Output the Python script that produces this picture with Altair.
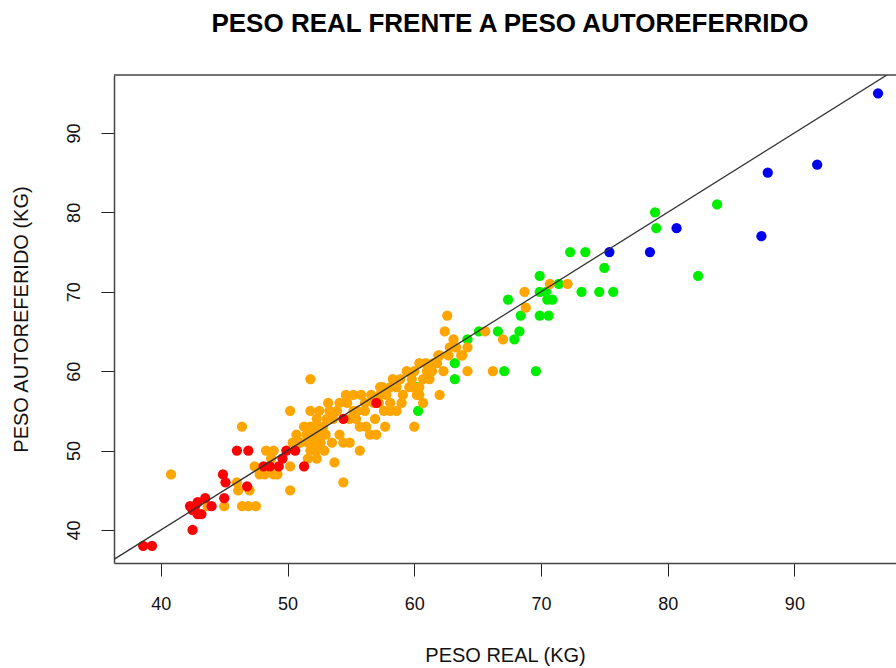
import altair as alt
import pandas as pd

titulo = "PESO REAL FRENTE A PESO AUTOREFERRIDO"
eje_x = "PESO REAL (KG)"
eje_y = "PESO AUTOREFERIDO (KG)"
marcas = [40, 50, 60, 70, 80, 90]

grupos = ["verde", "naranja", "rojo", "azul"]
colores = ["#00EE00", "#FFA500", "#FF0000", "#0000EE"]

verde_real = [79.0, 79.1, 83.9, 72.3, 73.5, 75.0, 82.4, 69.9, 71.4, 73.2, 74.6, 75.7,
              69.9, 70.4, 70.5, 70.9, 67.4, 68.4, 69.9, 70.6, 66.6, 65.1, 68.3, 64.2,
              67.9, 67.1, 69.6, 63.2, 63.2, 60.2, 60.3]
verde_auto = [80, 78, 81, 75, 75, 73, 72, 72, 71, 70, 70, 70,
              70, 70, 69, 69, 69, 67, 67, 67, 65, 65, 65, 64,
              64, 60, 60, 59, 61, 58, 55]

naranja_real = [40.8, 43.7, 45.0, 46.0, 46.1, 46.4, 46.9, 47.5, 46.4, 47.4, 47.8, 48.2,
                48.9, 49.2, 48.3, 48.9, 48.7, 50.2, 50.2, 50.4, 51.0, 50.7, 50.2, 51.3,
                51.8, 52.3, 52.8, 51.5, 52.0, 52.5, 53.0, 51.6, 52.1, 52.6, 51.8, 52.3,
                52.9, 51.6, 52.3, 53.5, 54.1, 54.4, 54.9, 52.3, 53.1, 53.6, 53.3, 53.9,
                51.8, 52.5, 51.8, 53.2, 54.6, 54.7, 55.2, 55.5, 56.1, 56.1, 54.9, 55.4,
                55.7, 56.2, 55.8, 56.5, 57.0, 57.7, 55.7, 53.7, 54.4, 57.5, 58.1, 57.8,
                58.6, 58.3, 58.9, 59.4, 59.6, 59.1, 59.0, 60.4, 61.0, 61.8, 62.0, 62.3,
                61.2, 60.4, 62.0, 60.0, 58.1, 58.6, 60.4, 60.7, 57.3, 61.5, 60.7, 59.9,
                58.1, 60.2, 62.7, 63.1, 63.3, 62.8, 61.9, 62.6, 62.4, 64.2, 63.8, 64.2,
                66.2, 65.6, 67.0, 68.7, 68.8, 70.7, 72.1, 54.1, 55.2, 63.7, 47.0, 56.8,
                57.3, 57.6, 56.9, 59.8, 60.0, 60.9, 61.4, 56.6, 57.2]
naranja_auto = [47, 43, 43, 46, 45, 43, 43, 43, 53, 48, 47, 47,
                47, 47, 50, 50, 49, 48, 45, 51, 51, 52, 55, 53,
                53, 53, 53, 52, 52, 52, 52, 51, 51, 51, 50, 50,
                50, 49, 49, 51, 52, 51, 51, 54, 54, 54, 55, 55,
                55, 55, 59, 56, 57, 56, 55, 55, 56, 55, 54, 54,
                53, 53, 57, 52, 52, 53, 50, 48.5, 46, 58, 58, 57,
                58, 59, 59, 60, 58, 57, 56, 61, 60, 61, 62, 60,
                59, 58, 57, 53, 55, 55, 57, 56, 58, 61, 59, 58,
                56, 57, 62, 64, 63, 63, 62, 67, 65, 63, 62, 60,
                60, 65, 64, 70, 68, 71, 71, 56, 57, 62, 45, 56,
                57, 55, 54, 59, 60, 61, 60, 57, 56]

rojo_real = [38.6, 39.3, 42.5, 42.3, 42.9, 43.5, 42.7, 42.9, 42.5, 43.2, 44.0, 45.0,
             44.9, 45.1, 46.8, 46.0, 46.9, 48.1, 48.6, 49.3, 49.6, 49.9, 50.6, 51.3,
             54.4, 57.0]
rojo_auto = [38, 38, 40, 43, 43.5, 44, 43, 42, 42.5, 42, 43, 44,
             47, 46, 45.5, 50, 50, 48, 48, 48, 49, 50, 50, 48,
             54, 56]

azul_real = [75.4, 78.6, 80.7, 87.4, 87.9, 91.8, 96.6]
azul_auto = [75, 75, 78, 77, 85, 86, 95]

filas = []
for g, xs, ys in [("verde", verde_real, verde_auto), ("naranja", naranja_real, naranja_auto),
                  ("rojo", rojo_real, rojo_auto), ("azul", azul_real, azul_auto)]:
    for a, b in zip(xs, ys):
        filas.append({"real": a, "auto": b, "grupo": g, "capa": grupos.index(g)})
df = pd.DataFrame(filas)

dom_x = [36.3, 98.02]
dom_y = [35.84, 97.30]
W, H = 782, 488
FONT = "Liberation Sans"

x_enc = alt.X("real:Q", scale=alt.Scale(domain=dom_x, nice=False, zero=False),
              axis=alt.Axis(values=marcas, grid=False, tickSize=13, tickColor="#222",
                            tickWidth=1, domainColor="#444", domainWidth=1.5,
                            labelFont=FONT, labelFontSize=18, labelColor="#111",
                            labelPadding=19, labelFlush=False,
                            title=eje_x, titleFont=FONT, titleFontSize=20,
                            titleFontWeight="normal", titleColor="#111",
                            titleY=92, titleBaseline="middle"))
y_enc = alt.Y("auto:Q", scale=alt.Scale(domain=dom_y, nice=False, zero=False),
              axis=alt.Axis(values=marcas, grid=False, tickSize=13, tickColor="#222",
                            tickWidth=1, domainColor="#444", domainWidth=1.5,
                            labelFont=FONT, labelFontSize=18, labelColor="#111",
                            labelAngle=270, labelAlign="center", labelBaseline="alphabetic",
                            labelPadding=22, labelFlush=False,
                            title=eje_y, titleFont=FONT, titleFontSize=20,
                            titleFontWeight="normal", titleColor="#111",
                            titleAngle=270, titleX=-93, titleY=H / 2,
                            titleAlign="center", titleBaseline="middle"))

puntos = alt.Chart(df).mark_circle(size=105, opacity=1).encode(
    x=x_enc, y=y_enc,
    color=alt.Color("grupo:N", scale=alt.Scale(domain=grupos, range=colores), legend=None),
    order=alt.Order("capa:Q"),
)

df_linea = pd.DataFrame({"real": dom_x, "auto": dom_x})
linea = alt.Chart(df_linea).mark_line(color="#333", strokeWidth=1.3, clip=True).encode(
    x="real:Q", y="auto:Q")

borde = alt.Chart(pd.DataFrame({"a": [0]})).mark_rule(color="#444", strokeWidth=1.5).encode(
    x=alt.value(0), x2=alt.value(W), y=alt.value(0))

chart = alt.layer(puntos, linea, borde).properties(
    width=W, height=H,
    autosize=alt.AutoSizeParams(type="none"),
    padding={"left": 114, "top": 75, "right": 0, "bottom": 105},
    title=alt.Title(text=titulo, font=FONT, fontSize=26, fontWeight="bold", color="#000",
                    anchor="middle", baseline="alphabetic", offset=16, dx=5),
).configure_view(stroke=None)

chart.save("out.html", embed_options={"renderer": "svg", "actions": False})
